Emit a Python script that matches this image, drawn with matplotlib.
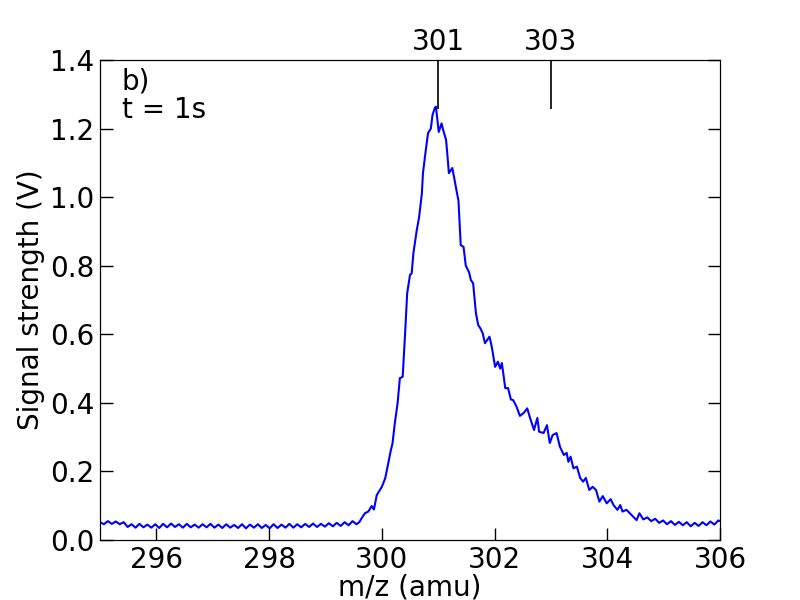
import numpy as np
import matplotlib

matplotlib.use("Agg")
import matplotlib.pyplot as plt

# baseline (noisy, ~0.04 V) before the peak
base_mz = [295.00, 295.07, 295.14, 295.21, 295.28, 295.35, 295.42, 295.49, 295.56, 295.63,
           295.70, 295.77, 295.84, 295.91, 295.98, 296.05, 296.12, 296.19, 296.26, 296.33,
           296.40, 296.47, 296.54, 296.61, 296.68, 296.75, 296.82, 296.89, 296.96, 297.03,
           297.10, 297.17, 297.24, 297.31, 297.38, 297.45, 297.52, 297.59, 297.66, 297.73,
           297.80, 297.87, 297.94, 298.01, 298.08, 298.15, 298.22, 298.29, 298.36, 298.43,
           298.50, 298.57, 298.64, 298.71, 298.78, 298.85, 298.92, 298.99, 299.06, 299.13,
           299.20, 299.27, 299.34, 299.41, 299.48, 299.55, 299.60]
base_v = [0.052, 0.046, 0.055, 0.047, 0.054, 0.046, 0.052, 0.038, 0.046, 0.036,
          0.047, 0.037, 0.045, 0.036, 0.046, 0.035, 0.047, 0.037, 0.048, 0.038,
          0.046, 0.036, 0.047, 0.037, 0.045, 0.036, 0.046, 0.037, 0.047, 0.036,
          0.045, 0.035, 0.046, 0.036, 0.044, 0.035, 0.046, 0.034, 0.045, 0.036,
          0.046, 0.035, 0.044, 0.034, 0.046, 0.035, 0.045, 0.036, 0.047, 0.036,
          0.046, 0.037, 0.047, 0.038, 0.048, 0.038, 0.047, 0.039, 0.049, 0.040,
          0.050, 0.041, 0.052, 0.043, 0.055, 0.046, 0.052]

# peak region
peak_mz = [299.64, 299.70, 299.76, 299.82, 299.86, 299.91, 300.00, 300.06, 300.10, 300.16,
           300.19, 300.23, 300.28, 300.32, 300.37, 300.41, 300.45, 300.50, 300.53, 300.56,
           300.62, 300.66, 300.71, 300.73, 300.78, 300.82, 300.87, 300.90, 300.94, 300.96,
           301.01, 301.06, 301.09, 301.14, 301.16, 301.19, 301.25, 301.28, 301.33, 301.36,
           301.40, 301.45, 301.49, 301.55, 301.58, 301.62, 301.67, 301.71, 301.75, 301.79,
           301.83, 301.91, 301.95, 302.01, 302.06, 302.10, 302.13, 302.19, 302.24, 302.29,
           302.33, 302.39, 302.45, 302.52, 302.58, 302.63, 302.70, 302.76, 302.79, 302.87,
           302.93, 302.98, 303.03, 303.10, 303.16, 303.23, 303.28, 303.31, 303.35, 303.40,
           303.46, 303.52, 303.57, 303.62, 303.68, 303.74, 303.80, 303.86, 303.92, 303.99,
           304.06, 304.11, 304.18, 304.23, 304.27, 304.34, 304.43, 304.52, 304.57]
peak_v = [0.063, 0.078, 0.083, 0.099, 0.089, 0.131, 0.155, 0.180, 0.212, 0.262,
          0.282, 0.340, 0.399, 0.472, 0.476, 0.593, 0.720, 0.773, 0.778, 0.836,
          0.904, 0.940, 1.010, 1.070, 1.137, 1.187, 1.200, 1.240, 1.260, 1.264,
          1.190, 1.215, 1.195, 1.167, 1.130, 1.070, 1.085, 1.060, 1.015, 0.990,
          0.860, 0.855, 0.800, 0.780, 0.758, 0.749, 0.661, 0.627, 0.617, 0.603,
          0.574, 0.593, 0.564, 0.505, 0.520, 0.500, 0.516, 0.443, 0.443, 0.410,
          0.408, 0.389, 0.362, 0.371, 0.384, 0.356, 0.321, 0.356, 0.316, 0.312,
          0.335, 0.283, 0.306, 0.312, 0.272, 0.248, 0.254, 0.228, 0.243, 0.209,
          0.214, 0.181, 0.170, 0.181, 0.146, 0.155, 0.146, 0.112, 0.128, 0.107,
          0.119, 0.102, 0.088, 0.102, 0.083, 0.088, 0.073, 0.058, 0.078]

# tail back to baseline
tail_mz = [304.64, 304.71, 304.78, 304.85, 304.92, 304.99, 305.06, 305.13, 305.20, 305.27,
           305.34, 305.41, 305.48, 305.55, 305.62, 305.69, 305.76, 305.83, 305.90, 305.97, 306.00]
tail_v = [0.060, 0.066, 0.055, 0.062, 0.050, 0.057, 0.046, 0.055, 0.044, 0.053,
          0.043, 0.052, 0.040, 0.050, 0.041, 0.052, 0.043, 0.054, 0.045, 0.057, 0.055]

marker_mz = [301, 303]
marker_labels = ["301", "303"]

mz = np.array(base_mz + peak_mz + tail_mz)
volts = np.array(base_v + peak_v + tail_v)

plt.rcParams["font.family"] = "DejaVu Sans"
plt.rcParams["font.size"] = 20

fig = plt.figure(figsize=(8, 6), dpi=100)
ax = fig.add_axes([0.125, 0.1, 0.775, 0.8])
ax.plot(mz, volts, color="blue", lw=1.5)
ax.set_xlim(295, 306)
ax.set_ylim(0, 1.4)
ax.set_xticks([296, 298, 300, 302, 304, 306])
ax.set_yticks(np.arange(0, 1.41, 0.2))
ax.yaxis.set_major_formatter(matplotlib.ticker.FormatStrFormatter("%.1f"))
ax.tick_params(direction="in", top=True, right=True, length=9, width=1, labelsize=20, pad=4)
ax.set_xlabel("m/z (amu)", fontsize=20, labelpad=0)
ax.set_ylabel("Signal strength (V)", fontsize=20, labelpad=4)
ax.text(0.035, 0.985, "b)\nt = 1s", transform=ax.transAxes, va="top", ha="left",
        fontsize=20, linespacing=1.05)

# long marker ticks at the top
ax2 = ax.twiny()
ax2.set_xlim(ax.get_xlim())
ax2.set_xticks(marker_mz)
ax2.set_xticklabels(marker_labels)
ax2.tick_params(direction="in", length=35, width=1.2, labelsize=20, pad=3)

fig.savefig("out.png", dpi=100)
